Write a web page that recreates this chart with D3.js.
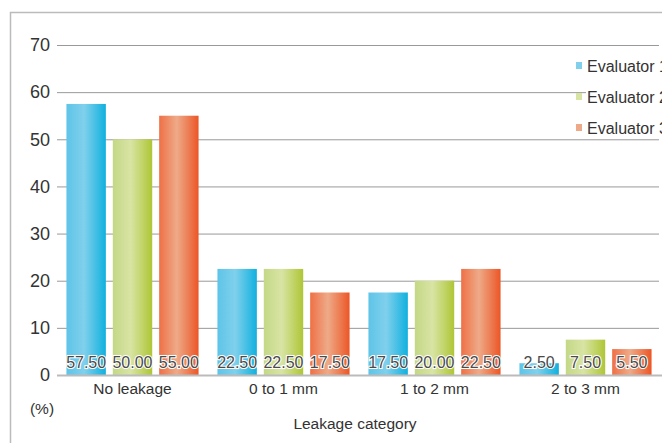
<!DOCTYPE html>
<html lang="en">
  <head>
    <meta charset="utf-8">
    <title>leakage</title>
    <script src="https://cdn.jsdelivr.net/npm/d3@7"></script>
    <style type="text/css">
      body { margin: 0; background: #fff; }
      text { font-family: "Liberation Sans", Arial, sans-serif; }
      .tick text { font-size: 18px; fill: #333; }
      .catLabel { font-size: 15.5px; fill: #333; }
      .valLabel {
        font-size: 16px;
        fill: #4a4a4a;
        stroke: #fff;
        stroke-width: 2.2px;
        paint-order: stroke;
      }
      .legendText { font-size: 16px; fill: #333; }
    </style>
  </head>
  <body>
    <svg id="chart" width="662" height="443"></svg>
    <script type="text/javascript">
      var categories = ["No leakage", "0 to 1 mm", "1 to 2 mm", "2 to 3 mm"];
      var evaluators = ["Evaluator 1", "Evaluator 2", "Evaluator 3"];
      var evaluator1 = [57.5, 22.5, 17.5, 2.5];
      var evaluator2 = [50.0, 22.5, 20.0, 7.5];
      var evaluator3 = [55.0, 17.5, 22.5, 5.5];
      var yTicks = [0, 10, 20, 30, 40, 50, 60, 70];

      var seriesValues = [evaluator1, evaluator2, evaluator3];

      // gradient colours per evaluator: [left, middle, right]
      var colours = [
        ["#5ec4e8", "#80d0ec", "#10b0de"],
        ["#c4d886", "#d8e4a4", "#aec636"],
        ["#ef7046", "#eeaa88", "#ec5626"]
      ];

      var svg = d3.select("#chart");

      // outer frame
      svg.append("path")
        .attr("d", "M10.5,450 L10.5,12.5 L670,12.5")
        .attr("fill", "none")
        .attr("stroke", "#bbb")
        .attr("stroke-width", 1.5);

      var defs = svg.append("defs");
      colours.forEach(function(c, i) {
        var grad = defs.append("linearGradient")
          .attr("id", "grad" + i)
          .attr("x1", "0%").attr("x2", "100%")
          .attr("y1", "0%").attr("y2", "0%");
        grad.append("stop").attr("offset", "0%").attr("stop-color", c[0]);
        grad.append("stop").attr("offset", "45%").attr("stop-color", c[1]);
        grad.append("stop").attr("offset", "100%").attr("stop-color", c[2]);
      });

      var y = d3.scaleLinear().domain([0, 70]).range([375, 45]);

      var x0 = d3.scaleBand()
        .domain(categories)
        .range([57, 661])
        .paddingInner(0.125)
        .paddingOuter(0.0625);

      var x1 = d3.scaleBand()
        .domain(d3.range(evaluators.length))
        .range([0, x0.bandwidth()])
        .paddingInner(0.15);

      // gridlines and y tick labels
      var yAxis = d3.axisLeft(y)
        .tickValues(yTicks)
        .tickSize(-602)
        .tickPadding(7);

      var gy = svg.append("g")
        .attr("transform", "translate(57,0)")
        .call(yAxis);
      gy.select(".domain").remove();
      gy.selectAll(".tick line")
        .attr("stroke", "#999")
        .attr("stroke-width", 1);
      gy.selectAll(".tick")
        .filter(function(d) { return d === 0; })
        .select("line").remove();

      // legend background (covers gridline behind legend text)
      svg.append("rect")
        .attr("x", 586).attr("y", 52)
        .attr("width", 80).attr("height", 82)
        .attr("fill", "#fff");

      // bars
      var groups = svg.append("g").selectAll("g")
        .data(categories)
        .enter().append("g")
        .attr("transform", function(d) { return "translate(" + x0(d) + ",0)"; });

      groups.selectAll("rect")
        .data(function(d, ci) {
          return seriesValues.map(function(s, si) { return {s: si, v: s[ci]}; });
        })
        .enter().append("rect")
        .attr("x", function(d) { return x1(d.s); })
        .attr("y", function(d) { return y(d.v); })
        .attr("width", x1.bandwidth())
        .attr("height", function(d) { return y(0) - y(d.v); })
        .attr("fill", function(d) { return "url(#grad" + d.s + ")"; });

      groups.selectAll(".valLabel")
        .data(function(d, ci) {
          return seriesValues.map(function(s, si) { return {s: si, v: s[ci]}; });
        })
        .enter().append("text")
        .attr("class", "valLabel")
        .attr("x", function(d) { return x1(d.s) + x1.bandwidth() / 2; })
        .attr("y", y(0) - 7)
        .attr("text-anchor", "middle")
        .text(function(d) { return d3.format(".2f")(d.v); });

      // zero axis line
      svg.append("line")
        .attr("x1", 57).attr("x2", 662)
        .attr("y1", y(0) + 0.5).attr("y2", y(0) + 0.5)
        .attr("stroke", "#bbb")
        .attr("stroke-width", 2);

      // category labels
      svg.append("g").selectAll("text")
        .data(categories)
        .enter().append("text")
        .attr("class", "catLabel")
        .attr("x", function(d) { return x0(d) + x0.bandwidth() / 2; })
        .attr("y", 394)
        .attr("text-anchor", "middle")
        .text(function(d) { return d; });

      svg.append("text")
        .attr("class", "catLabel")
        .attr("x", 355).attr("y", 429)
        .attr("text-anchor", "middle")
        .text("Leakage category");

      svg.append("text")
        .attr("class", "catLabel")
        .attr("x", 42).attr("y", 414)
        .attr("text-anchor", "middle")
        .text("(%)");

      // legend
      var legend = svg.append("g").selectAll("g")
        .data(evaluators)
        .enter().append("g")
        .attr("transform", function(d, i) { return "translate(576," + (66 + i * 31) + ")"; });

      legend.append("rect")
        .attr("x", 0).attr("y", -4)
        .attr("width", 6).attr("height", 7)
        .attr("fill", function(d, i) { return colours[i][1]; });

      legend.append("text")
        .attr("class", "legendText")
        .attr("x", 11).attr("y", 5.5)
        .text(function(d) { return d; });
    </script>
  </body>
</html>
